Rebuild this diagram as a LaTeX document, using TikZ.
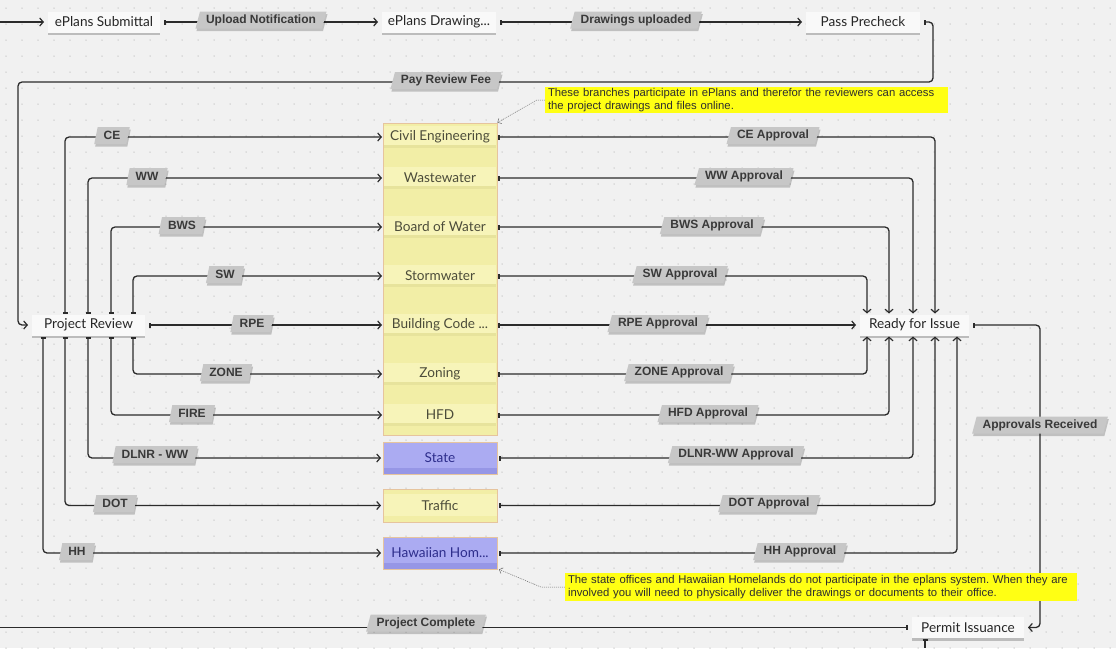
\documentclass[tikz,border=0pt]{standalone}
\usepackage{fontspec}
\setmainfont{Liberation Sans}
\newfontfamily\latof{Lato}
\usetikzlibrary{arrows.meta,shapes.geometric,shadows,calc}
\definecolor{bgc}{HTML}{F1F1F1}
\definecolor{dotc}{HTML}{C8C8C8}
\definecolor{linec}{HTML}{2B2B2B}
\definecolor{nodefill}{HTML}{F9F9F9}
\definecolor{labfill}{HTML}{C7C7C7}
\definecolor{labtext}{HTML}{393939}
\definecolor{ylw}{HTML}{F2EEA6}
\definecolor{ylwband}{HTML}{F7F4B9}
\definecolor{ylwdark}{HTML}{E7E39C}
\definecolor{ylwborder}{HTML}{E6C49E}
\definecolor{blu}{HTML}{ABABF2}
\definecolor{bludark}{HTML}{9696E6}
\definecolor{blutext}{HTML}{2E2E8C}
\definecolor{coltext}{HTML}{4C4C3A}
\definecolor{notey}{HTML}{FFFF14}
\definecolor{linkc}{HTML}{6A6A6A}
\tikzset{
  conn/.style={draw=linec, line width=1.3pt, rounded corners=4pt,
    arrows={Bar[width=5pt,line width=2pt]-Straight Barb[length=3.5pt,width=8pt,line width=1.2pt]}},
  tailonly/.style={draw=linec, line width=1.3pt, rounded corners=4pt,
    arrows={Bar[width=5pt,line width=2pt]-}},
  arronly/.style={draw=linec, line width=1.3pt,
    arrows={-Straight Barb[length=3.5pt,width=8pt,line width=1.2pt]}},
  wnode/.style={fill=nodefill, minimum height=21pt, inner sep=0pt, outer xsep=4pt, outer ysep=1pt,
    font=\latof\fontsize{13.6}{13.6}\selectfont, text=black!85,
    drop shadow={shadow xshift=0pt, shadow yshift=-2.5pt, opacity=0.22, fill=black}},
  lab/.style={trapezium, trapezium left angle=68, trapezium right angle=112, trapezium stretches body,
    fill=labfill, text=labtext, font=\bfseries\fontsize{12}{12}\selectfont,
    inner xsep=6pt, inner ysep=0pt, minimum height=17pt,
    drop shadow={shadow xshift=1pt, shadow yshift=-2.5pt, opacity=0.2, fill=black}},
  colbase/.style={minimum width=112pt, inner sep=0pt, outer xsep=2pt,
    font=\latof\fontsize{13.6}{13.6}\selectfont},
  yband/.style={colbase, minimum height=22pt, fill=ylwband, text=coltext,
    path picture={\fill[ylwdark] (path picture bounding box.south west) rectangle ([yshift=3pt]path picture bounding box.south east);}},
  bluebox/.style={colbase, minimum width=114pt, minimum height=32pt, fill=blu, draw=ylwborder, line width=0.8pt, text=blutext,
    path picture={\fill[bludark] (path picture bounding box.south west) rectangle ([yshift=6pt]path picture bounding box.south east);}},
  ylwbox/.style={colbase, minimum width=114pt, minimum height=33pt, fill=ylw, draw=ylwborder, line width=0.8pt, text=coltext,
    path picture={\fill[ylwband] ([yshift=-5pt]path picture bounding box.north west) rectangle ([yshift=6pt]path picture bounding box.south east);}},
  note/.style={fill=notey, align=left, font=\fontsize{11.3}{13.5}\selectfont\frenchspacing, text=black!82, inner xsep=3pt, inner ysep=1pt},
  notelink/.style={draw=linkc, line width=0.5pt, dash pattern=on 1pt off 1pt,
    arrows={-Straight Barb[length=3pt,width=6pt,line width=0.5pt]}}
}
\begin{document}
\begin{tikzpicture}[x=1pt,y=-1pt]
\useasboundingbox (0,0) rectangle (1116,648);
\fill[bgc] (0,0) rectangle (1116,648);
\foreach \x in {6,22,...,1116} \foreach \y in {8,24,...,648} \fill[dotc] (\x,\y) circle[radius=0.75pt];

% coordinates
\coordinate (in0) at (0,22);
\coordinate (k1) at (933,82);
\coordinate (k2) at (18,82);
\coordinate (k3) at (1040,400);
\coordinate (out0) at (0,627.5);
\coordinate (out1) at (925,648);
\coordinate (c0) at (43,0);
\coordinate (c1) at (65,0);
\coordinate (c2) at (88,0);
\coordinate (c3) at (111,0);
\coordinate (c4) at (133,0);
\coordinate (r1) at (867,0);
\coordinate (r2) at (889,0);
\coordinate (r3) at (913,0);
\coordinate (r4) at (935,0);
\coordinate (r5) at (957,0);

% column
\node[draw=ylwborder, fill=ylw, line width=0.8pt, minimum width=114pt, minimum height=312pt, inner sep=0pt] (ybox) at (440,279) {};
\node[yband] (ce) at (440,137) {Civil Engineering};
\node[yband] (ww) at (440,178) {Wastewater};
\node[yband] (bws) at (440,227) {Board of Water};
\node[yband] (sw) at (440,276) {Stormwater};
\node[yband] (bc) at (440,325) {Building Code ...};
\node[yband] (zon) at (440,374) {Zoning};
\node[yband] (hfd) at (440,415) {HFD};
\node[bluebox] (st) at (440,458) {State};
\node[ylwbox] (tr) at (440,505.5) {Traffic};
\node[bluebox] (hh) at (440,553) {Hawaiian Hom...};

% white nodes
\node[wnode, minimum width=112pt] (es) at (104,22) {ePlans Submittal};
\node[wnode, minimum width=114pt] (ed) at (439,22) {ePlans Drawing...};
\node[wnode, minimum width=114pt] (pp) at (863,22) {Pass Precheck};
\node[wnode, minimum width=113pt] (pr) at (88.5,325) {Project Review};
\node[wnode, minimum width=109pt] (rfi) at (914.5,325) {Ready for Issue};
\node[wnode, minimum width=112pt] (pi) at (968,627.5) {Permit Issuance};

% top flow
\draw[arronly] (in0) -- (es.west);
\draw[conn] (es.east) -- (ed.west);
\draw[conn] (ed.east) -- (pp.west);
\draw[conn] (pp.east) -| (k1) -- (k2) |- (pr.west);

% left fan-out
\draw[conn] (pr.north -| c1) |- (ce.west);
\draw[conn] (pr.north -| c2) |- (ww.west);
\draw[conn] (pr.north -| c3) |- (bws.west);
\draw[conn] (pr.north -| c4) |- (sw.west);
\draw[conn] (pr.east) -- (bc.west);
\draw[conn] (pr.south -| c4) |- (zon.west);
\draw[conn] (pr.south -| c3) |- (hfd.west);
\draw[conn] (pr.south -| c2) |- (st.west);
\draw[conn] (pr.south -| c1) |- (tr.west);
\draw[conn] (pr.south -| c0) |- (hh.west);

% right fan-in
\draw[conn] (ce.east) -| (rfi.north -| r4);
\draw[conn] (ww.east) -| (rfi.north -| r3);
\draw[conn] (bws.east) -| (rfi.north -| r2);
\draw[conn] (sw.east) -| (rfi.north -| r1);
\draw[conn] (bc.east) -- (rfi.west);
\draw[conn] (zon.east) -| (rfi.south -| r1);
\draw[conn] (hfd.east) -| (rfi.south -| r2);
\draw[conn] (st.east) -| (rfi.south -| r3);
\draw[conn] (tr.east) -| (rfi.south -| r4);
\draw[conn] (hh.east) -| (rfi.south -| r5);

% to permit issuance and beyond
\draw[conn] (rfi.east) -| (k3) |- (pi.east);
\draw[tailonly] (pi.west) -- (out0);
\draw[tailonly] (pi.south -| out1) -- (out1);

% labels
\node[lab] (lu) at (261,20) {Upload Notification};
\node[lab] (ldu) at (636,20) {Drawings uploaded};
\node[lab] (lpf) at (446,80.5) {Pay Review Fee};
\node[lab] (l1) at (112,135.5) {CE};
\node[lab] (l2) at (147,176.5) {WW};
\node[lab] (l3) at (182,225.5) {BWS};
\node[lab] (l4) at (225,274.5) {SW};
\node[lab] (l5) at (252,323.5) {RPE};
\node[lab] (l6) at (226,372.5) {ZONE};
\node[lab] (l7) at (192,413.5) {FIRE};
\node[lab] (l8) at (155,454.5) {DLNR - WW};
\node[lab] (l9) at (115,503.5) {DOT};
\node[lab] (l10) at (77,551.5) {HH};
\node[lab] (a1) at (773,135.5) {CE Approval};
\node[lab] (a2) at (744,176.5) {WW Approval};
\node[lab] (a3) at (712,225.5) {BWS Approval};
\node[lab] (a4) at (680,274.5) {SW Approval};
\node[lab] (a5) at (658,323.5) {RPE Approval};
\node[lab] (a6) at (679,372.5) {ZONE Approval};
\node[lab] (a7) at (708,413.5) {HFD Approval};
\node[lab] (a8) at (736,454.5) {DLNR-WW Approval};
\node[lab] (a9) at (769,503.5) {DOT Approval};
\node[lab] (a10) at (800,551.5) {HH Approval};
\node[lab] (lar) at (1040,425) {Approvals Received};
\node[lab] (lpc) at (426,623) {Project Complete};

% notes
\node[note, text width=397pt, minimum height=26pt] (n1) at (746.5,100)
  {These branches participate in ePlans and therefor the reviewers can access\\the project drawings and files online.};
\node[note, text width=506pt, minimum height=28pt] (n2) at (821,587)
  {The state offices and Hawaiian Homelands do not participate in the eplans system. When they are\\involved you will need to physically deliver the drawings or documents to their office.};
\draw[notelink] (n1.west) -- ++(-8,0) -- (ybox.north east);
\draw[notelink] (n2.west) -- ++(-24,0) -- (hh.south east);
\end{tikzpicture}
\end{document}
